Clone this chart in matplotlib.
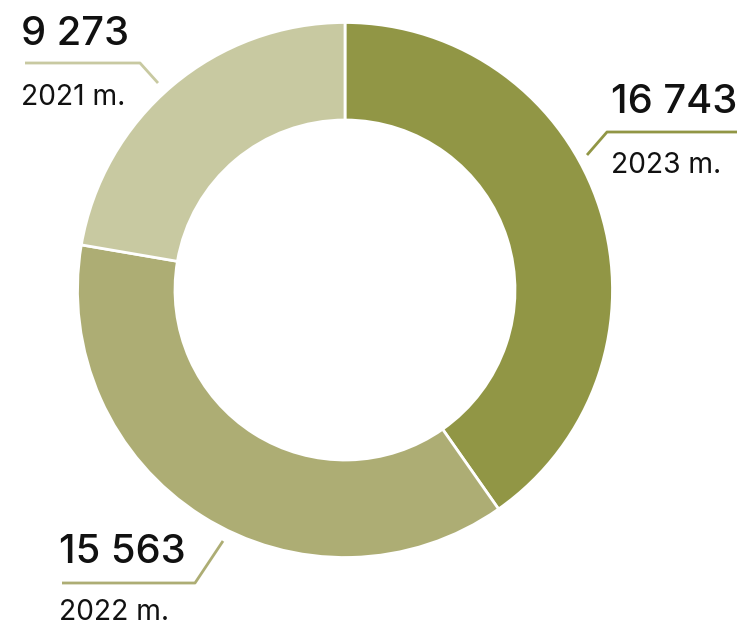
import matplotlib.pyplot as plt

# data
years = ['2023 m.', '2022 m.', '2021 m.']
values = [16743, 15563, 9273]
colors = ['#919645', '#adad74', '#c8c9a1']

plt.rcParams['font.family'] = ['Inter', 'DejaVu Sans']

W, H = 747, 627
fig = plt.figure(figsize=(W / 100, H / 100), dpi=100)
ax = fig.add_axes([0, 0, 1, 1])

# donut, centre and radius in pixel units
cx, cy, R, r = 345, H - 290, 267.5, 170
ax.pie(values, colors=colors, startangle=90, counterclock=False,
       center=(cx, cy), radius=R,
       wedgeprops=dict(width=R - r, edgecolor='white', linewidth=2))

ax.set_xlim(0, W)
ax.set_ylim(0, H)
ax.set_aspect('equal')
ax.axis('off')

def fmt(v):
    return f'{v:,}'.replace(',', ' ')

# label layout: (text x, value baseline, year baseline, leader line points)
layout = [
    (611, 113, 173, [(587, 155), (607, 132), (737, 132)]),
    (59, 563, 620, [(223, 541), (195, 583), (62, 583)]),
    (21, 45, 105, [(158, 83), (140, 63), (25, 63)]),
]

for (tx, vb, yb, pts), v, lab, c in zip(layout, values, years, colors):
    ax.text(tx, H - vb, fmt(v), fontsize=28.7, fontweight='medium',
            ha='left', va='baseline', color='#111111')
    ax.text(tx, H - yb, lab, fontsize=20.3, ha='left', va='baseline',
            color='#111111')
    xs = [p[0] for p in pts]
    ys = [H - p[1] for p in pts]
    ax.plot(xs, ys, color=c, linewidth=2, solid_capstyle='butt')

fig.savefig('out.png', dpi=100)
